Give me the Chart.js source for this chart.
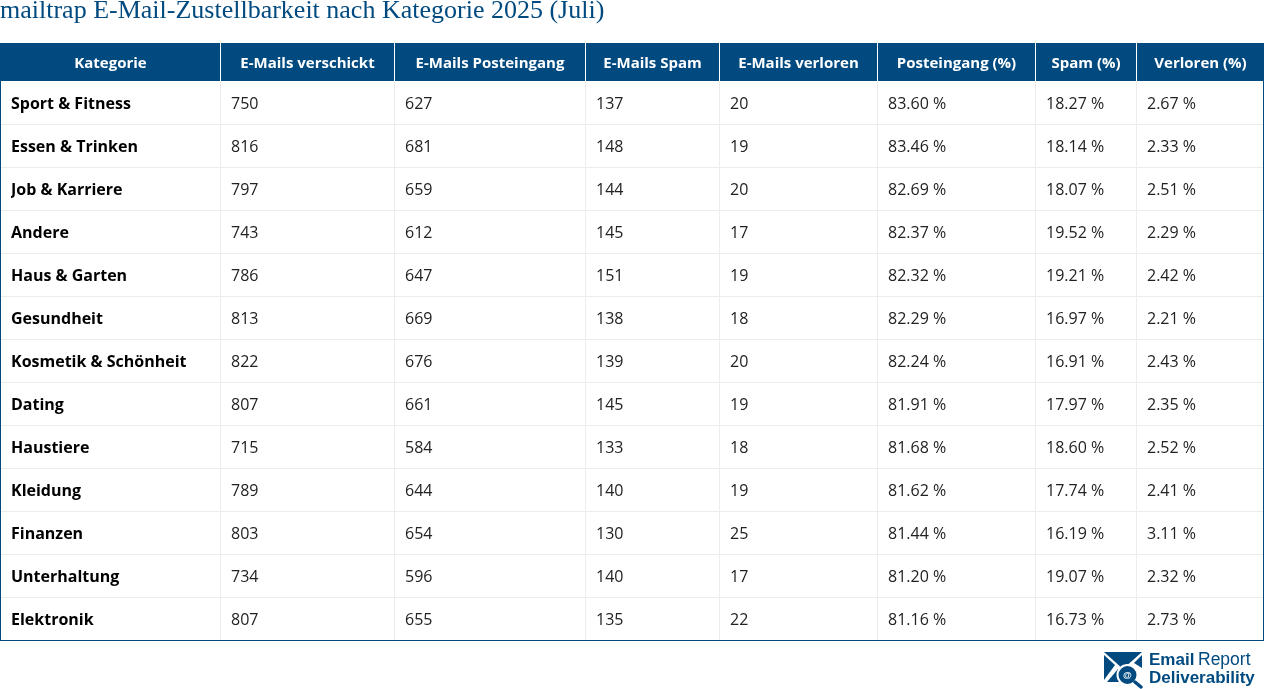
<![CDATA[<!DOCTYPE html>
<html lang="de"><head><meta charset="utf-8">
<style>html,body{margin:0;padding:0;background:#fff;overflow:hidden}canvas{display:block}</style>
<script src="https://cdn.jsdelivr.net/npm/chart.js@4"></script>
</head><body><canvas id="c" width="1264" height="689"></canvas>
<script>
const titleText = "mailtrap E-Mail-Zustellbarkeit nach Kategorie 2025 (Juli)";
const columnHeaders = ["Kategorie","E-Mails verschickt","E-Mails Posteingang","E-Mails Spam","E-Mails verloren","Posteingang (%)","Spam (%)","Verloren (%)"];
const categories = ["Sport & Fitness","Essen & Trinken","Job & Karriere","Andere","Haus & Garten","Gesundheit","Kosmetik & Schönheit","Dating","Haustiere","Kleidung","Finanzen","Unterhaltung","Elektronik"];
const sent = [750,816,797,743,786,813,822,807,715,789,803,734,807];
const inbox = [627,681,659,612,647,669,676,661,584,644,654,596,655];
const spam = [137,148,144,145,151,138,139,145,133,140,130,140,135];
const lost = [20,19,20,17,19,18,20,19,18,19,25,17,22];
const inboxPct = [83.60,83.46,82.69,82.37,82.32,82.29,82.24,81.91,81.68,81.62,81.44,81.20,81.16];
const spamPct = [18.27,18.14,18.07,19.52,19.21,16.97,16.91,17.97,18.60,17.74,16.19,19.07,16.73];
const lostPct = [2.67,2.33,2.51,2.29,2.42,2.21,2.43,2.35,2.52,2.41,3.11,2.32,2.73];

const columnEdges = [0,220,394,585,719,877,1035,1136,1264];
const NAVY = "#004a80", LINE = "#ececec", INK = "#222222";
const numColumns = [[sent,false],[inbox,false],[spam,false],[lost,false],[inboxPct,true],[spamPct,true],[lostPct,true]];

const tablePlugin = {
  id: "table",
  beforeDraw(chart) {
    const {ctx, chartArea: a, scales: {x, y}} = chart;
    if (chart.titleBlock) chart.titleBlock.left = 0;
    ctx.save();
    // header band
    ctx.fillStyle = NAVY;
    ctx.fillRect(0, x.top, chart.width, x.bottom - x.top);
    // row rules
    ctx.fillStyle = LINE;
    categories.forEach((c, i) => {
      if (i < categories.length - 1) {
        const py = Math.round((y.getPixelForValue(i) + y.getPixelForValue(i + 1)) / 2);
        ctx.fillRect(0, py, chart.width, 1);
      }
    });
    // column rules
    columnEdges.slice(1, -1).forEach(e => {
      const px = Math.round(x.getPixelForValue(e));
      ctx.fillStyle = LINE;
      ctx.fillRect(px, a.top, 1, a.bottom - a.top + 1);
      ctx.fillStyle = "#ffffff";
      ctx.fillRect(px, x.top, 1, x.bottom - x.top);
    });
    // outer border
    ctx.fillStyle = NAVY;
    ctx.fillRect(0, a.top, 1, a.bottom - a.top + 1);
    ctx.fillRect(chart.width - 1, a.top, 1, a.bottom - a.top + 1);
    ctx.fillRect(0, a.bottom, chart.width, 1);
    ctx.restore();
  },
  afterDatasetsDraw(chart) {
    const {ctx} = chart;
    ctx.save();
    ctx.font = "400 16px 'Open Sans'";
    ctx.fillStyle = INK;
    ctx.textAlign = "left";
    ctx.textBaseline = "middle";
    chart.data.datasets.forEach((ds, di) => {
      chart.getDatasetMeta(di).data.forEach((pt, i) => {
        const isPct = numColumns[di][1];
        const v = numColumns[di][0][i];
        ctx.fillText(isPct ? v.toFixed(2) + " %" : String(v), pt.x + 11, pt.y + 1.5);
      });
    });
    ctx.restore();
    drawLogo(ctx);
  }
};

function drawLogo(ctx) {
  ctx.save();
  ctx.fillStyle = NAVY;
  // envelope
  ctx.beginPath();
  ctx.moveTo(1104,652); ctx.lineTo(1142,652); ctx.lineTo(1123,669); ctx.closePath(); ctx.fill();
  ctx.beginPath();
  ctx.moveTo(1104,655); ctx.lineTo(1115,665); ctx.lineTo(1104,680); ctx.closePath(); ctx.fill();
  ctx.beginPath();
  ctx.moveTo(1142,655); ctx.lineTo(1142,668); ctx.lineTo(1134,663); ctx.closePath(); ctx.fill();
  ctx.beginPath();
  ctx.moveTo(1107,682); ctx.lineTo(1118,669); ctx.lineTo(1123,673); ctx.lineTo(1119,682); ctx.closePath(); ctx.fill();
  // magnifier
  ctx.strokeStyle = "#ffffff"; ctx.lineWidth = 2;
  ctx.beginPath(); ctx.arc(1127.5,675,10,0,Math.PI*2); ctx.fillStyle = NAVY; ctx.fill(); ctx.stroke();
  ctx.strokeStyle = NAVY; ctx.lineWidth = 3.5; ctx.lineCap = "round";
  ctx.beginPath(); ctx.moveTo(1135,682); ctx.lineTo(1141,687); ctx.stroke();
  ctx.fillStyle = "#ffffff"; ctx.font = "bold 9px 'Liberation Sans'"; ctx.textAlign = "center"; ctx.textBaseline = "middle";
  ctx.fillText("@",1127.5,675.5);
  // wordmark
  ctx.textAlign = "left"; ctx.textBaseline = "alphabetic"; ctx.fillStyle = NAVY;
  ctx.font = "bold 17px 'Liberation Sans'";
  ctx.fillText("Email", 1149, 665);
  ctx.font = "400 17.5px 'Liberation Sans'";
  ctx.fillText("Report", 1198, 665);
  ctx.font = "bold 17px 'Liberation Sans'";
  ctx.fillText("Deliverability", 1149, 683);
  ctx.restore();
}

const colCenters = columnEdges.slice(0, -1).map((e, i) => (e + columnEdges[i + 1]) / 2);

new Chart(document.getElementById("c"), {
  type: "scatter",
  plugins: [tablePlugin],
  data: {
    datasets: numColumns.map((col, c) => ({
      label: columnHeaders[c + 1],
      data: col[0].map((v, i) => ({x: columnEdges[c + 1], y: categories[i]})),
      pointRadius: 0, showLine: false
    }))
  },
  options: {
    responsive: false, animation: false,
    layout: {padding: {left: 11, right: 0, top: 0, bottom: 49}},
    plugins: {
      legend: {display: false}, tooltip: {enabled: false},
      title: {
        display: true, text: titleText, align: "start", color: NAVY,
        font: {family: "'Liberation Serif'", size: 26, weight: "400", lineHeight: 1.2},
        padding: {top: -4, bottom: 15.8}
      }
    },
    scales: {
      x: {
        type: "linear", position: "top", min: 220, max: 1264,
        grid: {display: false}, border: {display: false},
        afterBuildTicks(s) { s.ticks = colCenters.map(v => ({value: v})); },
        afterFit(s) { s.height = 38; s.paddingLeft = 0; s.paddingRight = 0; },
        ticks: {
          autoSkip: false, maxRotation: 0, minRotation: 0, padding: 0, labelOffset: 0.5, color: "#ffffff",
          font: {family: "'Open Sans'", size: 15, weight: "700"},
          callback: v => columnHeaders[colCenters.indexOf(v)]
        }
      },
      y: {
        type: "category", labels: categories, offset: true,
        grid: {display: false}, border: {display: false},
        afterFit(s) { s.width = 209; },
        ticks: {
          autoSkip: false, crossAlign: "far", color: "#000000", labelOffset: 2,
          font: {family: "'Open Sans'", size: 16, weight: "700"}
        }
      }
    }
  },
});
</script>
</body></html>]]>
